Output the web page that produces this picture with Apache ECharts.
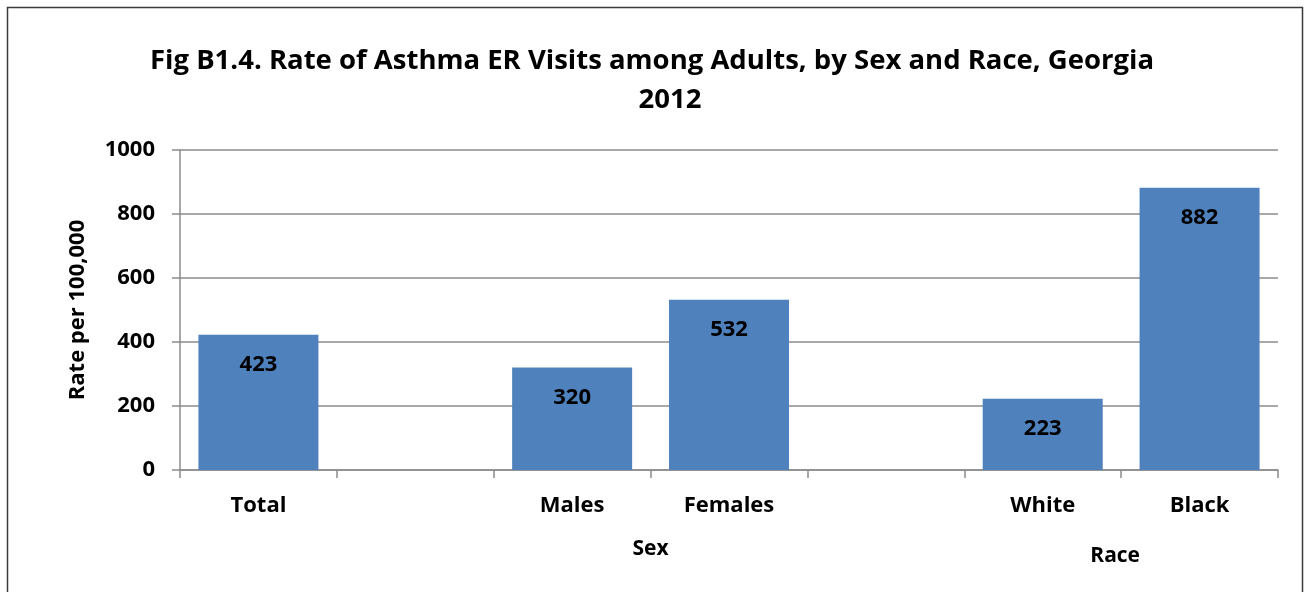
<!DOCTYPE html>
<html>
<head>
<meta charset="utf-8">
<script src="https://cdn.jsdelivr.net/npm/echarts@6/dist/echarts.min.js"></script>
<style>
  html, body { margin: 0; padding: 0; background: #fff; }
  #chart { width: 1309px; height: 592px; }
</style>
</head>
<body>
<div id="chart"></div>
<script>
// Asthma ER visit rates among adults, Georgia 2012
const categories = ['Total', ' ', 'Males', 'Females', '  ', 'White', 'Black'];
const rates = [423, null, 320, 532, null, 223, 882];
const groupLabels = ['Sex', 'Race'];
const yTicks = [0, 200, 400, 600, 800, 1000];
const titleLines = ['Fig B1.4. Rate of Asthma ER Visits among Adults, by Sex and Race, Georgia', '2012'];

const FONT = '"Open Sans", Lato, sans-serif';
const chart = echarts.init(document.getElementById('chart'));

const option = {
  animation: false,
  backgroundColor: '#fff',
  grid: { left: 180, right: 31, top: 150, bottom: 122 },
  xAxis: {
    type: 'category',
    data: categories,
    axisLine: { lineStyle: { color: '#8c8c8c', width: 1.5 } },
    axisTick: { show: true, length: 8, lineStyle: { color: '#8c8c8c', width: 1.5 } },
    axisLabel: { color: '#000', fontFamily: FONT, fontWeight: 'bold', fontSize: 22, margin: 25 }
  },
  yAxis: {
    type: 'value',
    min: yTicks[0],
    max: yTicks[yTicks.length - 1],
    interval: yTicks[1] - yTicks[0],
    name: 'Rate per 100,000',
    nameLocation: 'middle',
    nameGap: 91,
    nameRotate: 90,
    nameTextStyle: { color: '#000', fontFamily: FONT, fontWeight: 'bold', fontSize: 22 },
    axisLine: { show: true, lineStyle: { color: '#8c8c8c', width: 1.5 } },
    axisTick: { show: true, length: 8, inside: false, lineStyle: { color: '#8c8c8c', width: 1.5 } },
    splitLine: { lineStyle: { color: '#8c8c8c', width: 1.5 } },
    axisLabel: {
      color: '#000', fontFamily: FONT, fontWeight: 'bold', fontSize: 22, margin: 25,
      formatter: v => String(v)
    }
  },
  series: [{
    type: 'bar',
    data: rates,
    barWidth: '76.5%',
    itemStyle: { color: '#4f81bd' },
    label: {
      show: true,
      position: 'insideTop',
      distance: 19,
      color: '#000',
      fontFamily: FONT,
      fontWeight: 'bold',
      fontSize: 22
    }
  }]
};
chart.setOption(option);

// Group captions under the category labels, placed from the axis scale
const sexX = (chart.convertToPixel({ xAxisIndex: 0 }, categories[2]) + chart.convertToPixel({ xAxisIndex: 0 }, categories[3])) / 2;
const raceX = (chart.convertToPixel({ xAxisIndex: 0 }, categories[5]) + chart.convertToPixel({ xAxisIndex: 0 }, categories[6])) / 2 - 6;

chart.setOption({
  graphic: [
    {
      type: 'rect', silent: true,
      shape: { x: 7.5, y: 7.5, width: 1295, height: 620 },
      style: { fill: 'none', stroke: '#3a3a3a', lineWidth: 1.5 }
    },
    {
      type: 'text', x: 652, y: 61,
      style: { text: titleLines[0], fontFamily: FONT, fontWeight: 'bold', fontSize: 27.5, fill: '#000', align: 'center', verticalAlign: 'middle' }
    },
    {
      type: 'text', x: 670, y: 100,
      style: { text: titleLines[1], fontFamily: FONT, fontWeight: 'bold', fontSize: 27.5, fill: '#000', align: 'center', verticalAlign: 'middle' }
    },
    {
      type: 'text', x: sexX, y: 549,
      style: { text: groupLabels[0], fontFamily: FONT, fontWeight: 'bold', fontSize: 21, fill: '#000', align: 'center', verticalAlign: 'middle' }
    },
    {
      type: 'text', x: raceX, y: 556,
      style: { text: groupLabels[1], fontFamily: FONT, fontWeight: 'bold', fontSize: 21, fill: '#000', align: 'center', verticalAlign: 'middle' }
    }
  ]
});
</script>
</body>
</html>
